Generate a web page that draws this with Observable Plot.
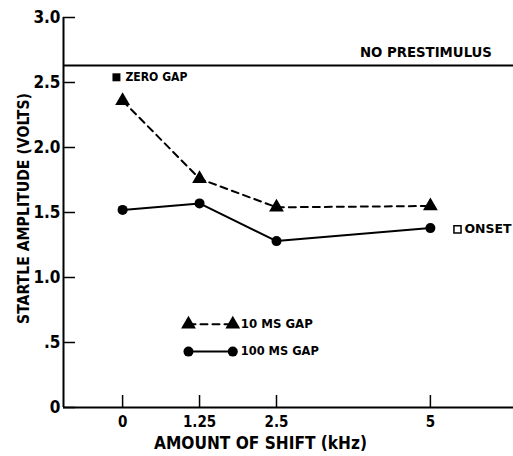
<!DOCTYPE html>
<html>
<head>
<meta charset="utf-8">
<script src="https://cdn.jsdelivr.net/npm/d3@7"></script>
<script src="https://cdn.jsdelivr.net/npm/@observablehq/plot@0.6"></script>
<style>
  html, body { margin: 0; padding: 0; background: #fff; }
  #chart svg { font-family: "DejaVu Sans Condensed", "Liberation Sans Narrow", "DejaVu Sans", sans-serif; font-stretch: condensed; font-weight: bold; }
</style>
</head>
<body>
<div id="chart"></div>
<script>
// ---- data ----
const shifts = [0, 1.25, 2.5, 5];                 // kHz
const gap10ms = [2.36, 1.76, 1.54, 1.55];          // triangles, dashed
const gap100ms = [1.52, 1.57, 1.28, 1.38];         // circles, solid
const noPrestimulus = 2.63;
const zeroGap = 2.54;                              // at 0 kHz
const onset = 1.37;                                // at right of 5 kHz
const onsetX = 5.44;
const xTicks = [0, 1.25, 2.5, 5];
const xTickLabels = ["0", "1.25", "2.5", "5"];
const yTicks = [0, 0.5, 1.0, 1.5, 2.0, 2.5, 3.0];
const yTickLabels = ["0", ".5", "1.0", "1.5", "2.0", "2.5", "3.0"];

const series10 = shifts.map((x, i) => ({x, y: gap10ms[i]}));
const series100 = shifts.map((x, i) => ({x, y: gap100ms[i]}));

const W = 513, H = 456;
const mTop = 17, mBottom = 49, mLeft = 63, mRight = 0;
const plotW = W - mLeft - mRight, plotH = H - mTop - mBottom;
const xDomain = [-0.96, 6.35];
const tickLen = 12;

// legend placement (annotation)
const legendX1 = 1.07, legendX2 = 1.79, legendTextX = 1.92;
const legend = [
  {label: "10 MS GAP", y: 0.64, dash: "7,5", symbol: "triangle"},
  {label: "100 MS GAP", y: 0.43, dash: null, symbol: "circle"}
];

// target text widths (px) to mimic the narrow lettering
const textWidths = {
  "AMOUNT OF SHIFT (kHz)": 213,
  "STARTLE AMPLITUDE (VOLTS)": 231,
  "NO PRESTIMULUS": 132,
  "ZERO GAP": 62,
  "ONSET": 47,
  "10 MS GAP": 72,
  "100 MS GAP": 78
};

const chart = Plot.plot({
  width: W, height: H,
  marginTop: mTop, marginBottom: mBottom, marginLeft: mLeft, marginRight: mRight,
  x: {domain: xDomain},
  y: {domain: [0, 3]},
  style: {fontSize: "16px", color: "#000", background: "#fff"},
  marks: [
    // frame lines
    Plot.ruleX([xDomain[0]], {stroke: "#000", strokeWidth: 2}),
    Plot.ruleY([0], {stroke: "#000", strokeWidth: 2}),
    // inward ticks
    Plot.tickY(yTicks, {y: d => d, stroke: "#000", strokeWidth: 1.5, insetRight: plotW - tickLen}),
    Plot.tickX(xTicks, {x: d => d, stroke: "#000", strokeWidth: 1.5, insetTop: plotH - tickLen}),
    // tick labels
    Plot.axisY(yTicks, {tickSize: 0, tickPadding: 3, tickFormat: (d) => yTickLabels[yTicks.indexOf(d)], fontSize: 17, label: null}),
    Plot.axisX(xTicks, {tickSize: 0, tickPadding: 9, tickFormat: (d) => xTickLabels[xTicks.indexOf(d)], fontSize: 15, label: null}),
    // axis titles
    Plot.text(["AMOUNT OF SHIFT (kHz)"], {frameAnchor: "bottom", dx: -28, dy: 41, fontSize: 17, fontWeight: "bold"}),
    Plot.text(["STARTLE AMPLITUDE (VOLTS)"], {frameAnchor: "left", textAnchor: "middle", rotate: -90, dx: -40, dy: -4, fontSize: 16, fontWeight: "bold"}),
    // no prestimulus
    Plot.ruleY([noPrestimulus], {stroke: "#000", strokeWidth: 2}),
    Plot.text(["NO PRESTIMULUS"], {x: 6.0, y: noPrestimulus, dy: -13, textAnchor: "end", fontSize: 14, fontWeight: "bold"}),
    // zero gap
    Plot.dot([zeroGap], {x: -0.1, y: d => d, symbol: "square", r: 4.5, fill: "#000"}),
    Plot.text(["ZERO GAP"], {x: -0.1, y: zeroGap, dx: 9, textAnchor: "start", fontSize: 12, fontWeight: "bold"}),
    // onset
    Plot.dot([onset], {x: onsetX, y: d => d, symbol: "square", r: 4, stroke: "#000", strokeWidth: 1.5, fill: "#fff"}),
    Plot.text(["ONSET"], {x: onsetX, y: onset, dx: 7, textAnchor: "start", fontSize: 12, fontWeight: "bold"}),
    // series
    Plot.line(series10, {x: "x", y: "y", stroke: "#000", strokeWidth: 2, strokeDasharray: "7,5"}),
    Plot.line(series100, {x: "x", y: "y", stroke: "#000", strokeWidth: 2}),
    Plot.dot(series10, {x: "x", y: "y", symbol: "triangle", r: 5.5, fill: "#000"}),
    Plot.dot(series100, {x: "x", y: "y", symbol: "circle", r: 5, fill: "#000"}),
    // legend
    ...legend.flatMap(l => [
      Plot.line([{x: legendX1, y: l.y}, {x: legendX2, y: l.y}], {x: "x", y: "y", stroke: "#000", strokeWidth: 2, strokeDasharray: l.dash}),
      Plot.dot([{x: legendX1, y: l.y}, {x: legendX2, y: l.y}], {x: "x", y: "y", symbol: l.symbol, r: l.symbol === "circle" ? 5 : 5.5, fill: "#000"}),
      Plot.text([l.label], {x: legendTextX, y: l.y, textAnchor: "start", fontSize: 12, fontWeight: "bold"})
    ])
  ]
});
d3.select(chart).selectAll("text").each(function() {
  const t = this.textContent;
  if (textWidths[t]) {
    this.setAttribute("textLength", textWidths[t]);
    this.setAttribute("lengthAdjust", "spacingAndGlyphs");
  }
});
document.getElementById("chart").appendChild(chart);
</script>
</body>
</html>
